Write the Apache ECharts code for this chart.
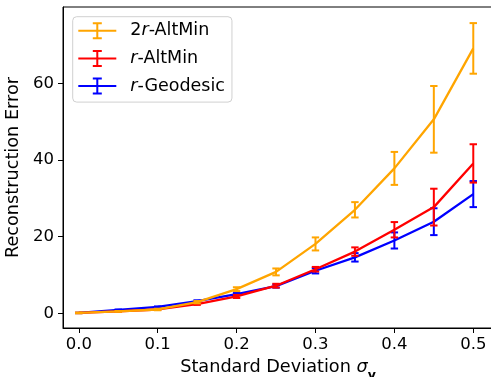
<!DOCTYPE html>
<html>
<head>
<meta charset="utf-8">
<script src="https://cdn.jsdelivr.net/npm/echarts@6/dist/echarts.min.js"></script>
<style>
html,body{margin:0;padding:0;background:#fff;}
#chart{width:491px;height:377px;}
</style>
</head>
<body>
<div id="chart"></div>
<script>
var sigmas = [0, 0.05, 0.1, 0.15, 0.2, 0.25, 0.3, 0.35, 0.4, 0.45, 0.5];
var altMin2r    = [0.1, 0.5, 1.0, 2.9, 6.3, 10.8, 18.1, 27.0, 37.8, 50.6, 69.1];
var altMin2rErr = [0.1, 0.1, 0.2, 0.3, 0.5, 0.9, 1.7, 2.0, 4.3, 8.7, 6.6];
var altMinR     = [0.1, 0.5, 1.0, 2.4, 4.4, 7.2, 11.5, 16.1, 21.8, 27.7, 39.1];
var altMinRErr  = [0.05, 0.1, 0.1, 0.2, 0.4, 0.5, 0.6, 1.1, 2.0, 4.8, 5.0];
var geoR        = [0.1, 0.9, 1.7, 3.2, 5.0, 7.1, 11.1, 14.6, 19.0, 23.9, 31.1];
var geoRErr     = [0.05, 0.1, 0.1, 0.2, 0.3, 0.4, 0.7, 1.1, 2.1, 3.5, 3.4];
var xTicks = [0, 0.1, 0.2, 0.3, 0.4, 0.5];
var yTicks = [0, 20, 40, 60];
var names = ['2r-AltMin', 'r-AltMin', 'r-Geodesic'];
var colors = ['#FFA500', '#FF0000', '#0000FF'];

var FONT = 'DejaVu Sans';
function pts(vals){ return sigmas.map(function(s,i){ return [s, vals[i]]; }); }
function errs(vals, e){ return sigmas.map(function(s,i){ return [s, vals[i]-e[i], vals[i]+e[i]]; }); }

function ebRender(color){
  return function(params, api){
    var x = api.value(0), lo = api.value(1), hi = api.value(2);
    var p1 = api.coord([x, lo]), p2 = api.coord([x, hi]);
    var hw = 3.7;
    var st = {stroke: color, lineWidth: 2};
    return {type:'group', children:[
      {type:'line', shape:{x1:p1[0], y1:p1[1], x2:p2[0], y2:p2[1]}, style:st},
      {type:'line', shape:{x1:p1[0]-hw, y1:p1[1], x2:p1[0]+hw, y2:p1[1]}, style:st},
      {type:'line', shape:{x1:p2[0]-hw, y1:p2[1], x2:p2[0]+hw, y2:p2[1]}, style:st}
    ]};
  };
}

var iconPath = 'path://M0 7.5H38V9.5H0Z M18 0H20V17H18Z M14.5 0H23.5V2H14.5Z M14.5 15H23.5V17H14.5Z';

var datasets = [[altMin2r, altMin2rErr], [altMinR, altMinRErr], [geoR, geoRErr]];
var zs = [6, 4, 2];
var series = [];
datasets.forEach(function(d, k){
  series.push({
    name: names[k], type:'line', data: pts(d[0]), symbol:'none', showSymbol:false,
    lineStyle:{color:colors[k], width:2.3}, itemStyle:{color:colors[k]},
    z: zs[k], animation:false
  });
  series.push({
    name: '_eb' + k, type:'custom', data: errs(d[0], d[1]),
    renderItem: ebRender(colors[k]), z: zs[k]+1, animation:false,
    encode:{x:0, y:[1,2]}
  });
});

var chart = echarts.init(document.getElementById('chart'), null, {renderer:'canvas'});
chart.setOption({
  backgroundColor:'#fff',
  animation:false,
  grid:{left:63, top:7, right:-2, bottom:49, show:true, borderColor:'#000', borderWidth:1, containLabel:false, outerBoundsMode:'none'},
  xAxis:{
    type:'value', min:-0.02, max:0.525,
    axisLine:{show:true, onZero:false, lineStyle:{color:'#000', width:1}},
    axisTick:{show:true, length:5, lineStyle:{color:'#000', width:1}, customValues: xTicks},
    axisLabel:{customValues: xTicks, formatter:function(v){return v.toFixed(1);}, fontSize:16.5, fontFamily:FONT, color:'#000', margin:8},
    splitLine:{show:false},
    name:'{n|Standard Deviation }{s|σ}{b|v}', nameLocation:'middle', nameGap:27,
    nameTextStyle:{fontFamily:FONT, color:'#000', rich:{
      n:{fontSize:17.7, fontFamily:FONT, color:'#000', verticalAlign:'middle', lineHeight:22},
      s:{fontSize:17.7, fontFamily:FONT, fontStyle:'italic', color:'#000', verticalAlign:'middle', lineHeight:22},
      b:{fontSize:12.5, fontFamily:FONT, fontWeight:'bold', color:'#000', verticalAlign:'bottom', lineHeight:22, padding:[0,0,-4,0]}
    }}
  },
  yAxis:{
    type:'value', min:-3.83, max:79.9,
    axisLine:{show:true, onZero:false, lineStyle:{color:'#000', width:1}},
    axisTick:{show:true, length:5, lineStyle:{color:'#000', width:1}, customValues: yTicks},
    axisLabel:{customValues: yTicks, fontSize:16.5, fontFamily:FONT, color:'#000', margin:9},
    splitLine:{show:false},
    name:'Reconstruction Error', nameLocation:'middle', nameGap:35, nameRotate:90,
    nameTextStyle:{fontSize:17.7, fontFamily:FONT, color:'#000'}
  },
  legend:{
    orient:'vertical', left:72.7, top:16.7,
    data: names.map(function(n){ return {name:n, icon:iconPath}; }),
    itemWidth:38, itemHeight:17, itemGap:9.7,
    padding:[5, 7, 7, 5.6],
    borderColor:'#d0d0d0', borderWidth:1, borderRadius:4,
    backgroundColor:'rgba(255,255,255,0.8)',
    itemStyle:{borderWidth:0},
    lineStyle:{width:0},
    formatter:function(name){
      if(name === '2r-AltMin') return '{n|2}{i|r}{n|-AltMin}';
      if(name === 'r-AltMin') return '{i|r}{n|-AltMin}';
      return '{i|r}{n|-Geodesic}';
    },
    textStyle:{fontSize:17.5, fontFamily:FONT, color:'#000', padding:[0,0,0,9], rich:{
      n:{fontSize:17.5, fontFamily:FONT, color:'#000'},
      i:{fontSize:17.5, fontFamily:FONT, fontStyle:'italic', color:'#000'}
    }}
  },
  series: series
});
</script>
</body>
</html>
